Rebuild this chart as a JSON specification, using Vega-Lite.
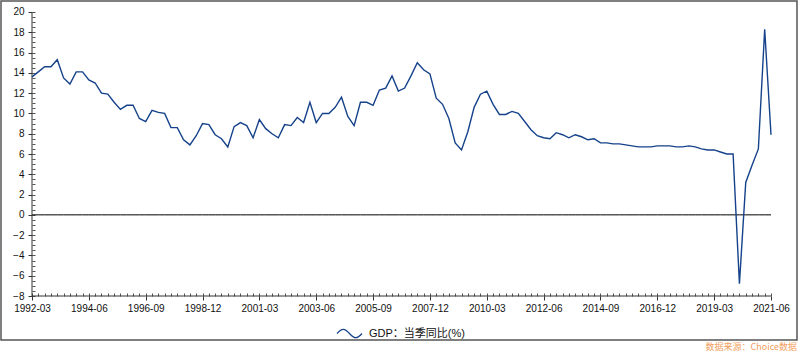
{
  "$schema": "https://vega.github.io/schema/vega-lite/v6.json",
  "width": 796,
  "height": 339,
  "autosize": {"type": "none"},
  "padding": {"left": 1, "top": 1, "right": 3, "bottom": 14},
  "background": "white",
  "config": {
    "view": {"stroke": "#555555", "strokeWidth": 1.5},
    "axis": {"labelFont": "Liberation Sans", "labelFontSize": 10, "labelColor": "#111111", "tickColor": "#333333", "domain": false, "grid": false, "title": null}
  },
  "title": {"text": "数据来源：Choice数据", "orient": "bottom", "anchor": "end", "frame": "group", "fontSize": 9, "font": "Noto Sans CJK SC", "color": "#f3a060", "fontWeight": "normal", "offset": 2},
  "data": {"values": [
    {"q":"1992-03","v":13.6},{"q":"1992-06","v":14.1},{"q":"1992-09","v":14.6},{"q":"1992-12","v":14.6},
    {"q":"1993-03","v":15.3},{"q":"1993-06","v":13.5},{"q":"1993-09","v":12.9},{"q":"1993-12","v":14.1},
    {"q":"1994-03","v":14.1},{"q":"1994-06","v":13.3},{"q":"1994-09","v":13.0},{"q":"1994-12","v":12.0},
    {"q":"1995-03","v":11.9},{"q":"1995-06","v":11.1},{"q":"1995-09","v":10.4},{"q":"1995-12","v":10.8},
    {"q":"1996-03","v":10.8},{"q":"1996-06","v":9.5},{"q":"1996-09","v":9.2},{"q":"1996-12","v":10.3},
    {"q":"1997-03","v":10.1},{"q":"1997-06","v":10.0},{"q":"1997-09","v":8.6},{"q":"1997-12","v":8.6},
    {"q":"1998-03","v":7.4},{"q":"1998-06","v":6.9},{"q":"1998-09","v":7.8},{"q":"1998-12","v":9.0},
    {"q":"1999-03","v":8.9},{"q":"1999-06","v":7.9},{"q":"1999-09","v":7.5},{"q":"1999-12","v":6.7},
    {"q":"2000-03","v":8.7},{"q":"2000-06","v":9.1},{"q":"2000-09","v":8.8},{"q":"2000-12","v":7.6},
    {"q":"2001-03","v":9.4},{"q":"2001-06","v":8.5},{"q":"2001-09","v":8.0},{"q":"2001-12","v":7.6},
    {"q":"2002-03","v":8.9},{"q":"2002-06","v":8.8},{"q":"2002-09","v":9.6},{"q":"2002-12","v":9.1},
    {"q":"2003-03","v":11.1},{"q":"2003-06","v":9.1},{"q":"2003-09","v":10.0},{"q":"2003-12","v":10.0},
    {"q":"2004-03","v":10.6},{"q":"2004-06","v":11.6},{"q":"2004-09","v":9.7},{"q":"2004-12","v":8.8},
    {"q":"2005-03","v":11.1},{"q":"2005-06","v":11.1},{"q":"2005-09","v":10.8},{"q":"2005-12","v":12.3},
    {"q":"2006-03","v":12.5},{"q":"2006-06","v":13.7},{"q":"2006-09","v":12.2},{"q":"2006-12","v":12.5},
    {"q":"2007-03","v":13.7},{"q":"2007-06","v":15.0},{"q":"2007-09","v":14.3},{"q":"2007-12","v":13.9},
    {"q":"2008-03","v":11.5},{"q":"2008-06","v":10.9},{"q":"2008-09","v":9.5},{"q":"2008-12","v":7.1},
    {"q":"2009-03","v":6.4},{"q":"2009-06","v":8.2},{"q":"2009-09","v":10.6},{"q":"2009-12","v":11.9},
    {"q":"2010-03","v":12.2},{"q":"2010-06","v":10.9},{"q":"2010-09","v":9.9},{"q":"2010-12","v":9.9},
    {"q":"2011-03","v":10.2},{"q":"2011-06","v":10.0},{"q":"2011-09","v":9.2},{"q":"2011-12","v":8.4},
    {"q":"2012-03","v":7.8},{"q":"2012-06","v":7.6},{"q":"2012-09","v":7.5},{"q":"2012-12","v":8.1},
    {"q":"2013-03","v":7.9},{"q":"2013-06","v":7.6},{"q":"2013-09","v":7.9},{"q":"2013-12","v":7.7},
    {"q":"2014-03","v":7.4},{"q":"2014-06","v":7.5},{"q":"2014-09","v":7.1},{"q":"2014-12","v":7.1},
    {"q":"2015-03","v":7.0},{"q":"2015-06","v":7.0},{"q":"2015-09","v":6.9},{"q":"2015-12","v":6.8},
    {"q":"2016-03","v":6.7},{"q":"2016-06","v":6.7},{"q":"2016-09","v":6.7},{"q":"2016-12","v":6.8},
    {"q":"2017-03","v":6.8},{"q":"2017-06","v":6.8},{"q":"2017-09","v":6.7},{"q":"2017-12","v":6.7},
    {"q":"2018-03","v":6.8},{"q":"2018-06","v":6.7},{"q":"2018-09","v":6.5},{"q":"2018-12","v":6.4},
    {"q":"2019-03","v":6.4},{"q":"2019-06","v":6.2},{"q":"2019-09","v":6.0},{"q":"2019-12","v":6.0},
    {"q":"2020-03","v":-6.8},{"q":"2020-06","v":3.2},{"q":"2020-09","v":4.9},{"q":"2020-12","v":6.5},
    {"q":"2021-03","v":18.3},{"q":"2021-06","v":7.9}
  ]},
  "resolve": {"axis": {"x": "independent", "y": "independent"}},
  "layer": [
    {
      "mark": {"type": "line", "color": "#000000", "strokeWidth": 1},
      "encoding": {
        "x": {"field": "q", "type": "ordinal", "scale": {"type": "point", "padding": 0, "range": [31, 770]},
              "axis": {"orient": "bottom", "offset": -44, "labels": false, "ticks": true, "tickSize": -3, "tickColor": "#555555"}},
        "y": {"datum": 0, "type": "quantitative", "scale": {"domain": [-12.338, 21.0845], "nice": false, "zero": false},
              "axis": {"orient": "left", "offset": -31, "labels": false, "ticks": true, "tickSize": -3, "tickColor": "#555555",
                       "values": [-8,-7.5,-7,-6.5,-6,-5.5,-5,-4.5,-4,-3.5,-3,-2.5,-2,-1.5,-1,-0.5,0,0.5,1,1.5,2,2.5,3,3.5,4,4.5,5,5.5,6,6.5,7,7.5,8,8.5,9,9.5,10,10.5,11,11.5,12,12.5,13,13.5,14,14.5,15,15.5,16,16.5,17,17.5,18,18.5,19,19.5,20]}}
      }
    },
    {
      "mark": {"type": "line", "color": "#333333", "strokeWidth": 1},
      "encoding": {
        "x": {"field": "q", "type": "ordinal", "axis": null},
        "y": {"datum": -8, "type": "quantitative", "axis": null}
      }
    },
    {
      "transform": [{"filter": "datum.q == '1992-03'"}],
      "mark": {"type": "rule", "color": "#333333", "strokeWidth": 1},
      "encoding": {
        "x": {"field": "q", "type": "ordinal", "axis": null},
        "y": {"datum": -8, "type": "quantitative", "axis": null},
        "y2": {"datum": 20}
      }
    },
    {
      "mark": {"type": "line", "strokeWidth": 1.4},
      "encoding": {
        "x": {"field": "q", "type": "ordinal",
              "axis": {"orient": "bottom", "offset": -44, "tickSize": 4, "labelPadding": 3, "labelAngle": 0, "labelFlush": false,
                       "values": ["1992-03","1994-06","1996-09","1998-12","2001-03","2003-06","2005-09","2007-12","2010-03","2012-06","2014-09","2016-12","2019-03","2021-06"]}},
        "y": {"field": "v", "type": "quantitative",
              "axis": {"orient": "left", "offset": -31, "tickSize": 4, "labelPadding": 4,
                       "values": [-8,-6,-4,-2,0,2,4,6,8,10,12,14,16,18,20]}},
        "color": {"datum": "GDP：当季同比(%)", "type": "nominal",
                  "scale": {"range": ["#15428a"]},
                  "legend": {"orient": "none", "legendX": 335, "legendY": 319, "title": null,
                             "symbolType": "M-1,0C-0.6,-0.45,-0.4,-0.45,0,0C0.4,0.45,0.6,0.45,1,0",
                             "symbolSize": 625, "symbolStrokeWidth": 1.2, "symbolFillColor": "transparent",
                             "labelFont": "Liberation Sans, Noto Sans CJK SC", "labelFontSize": 11, "labelColor": "#111111", "labelOffset": 6}}
      }
    }
  ]
}
